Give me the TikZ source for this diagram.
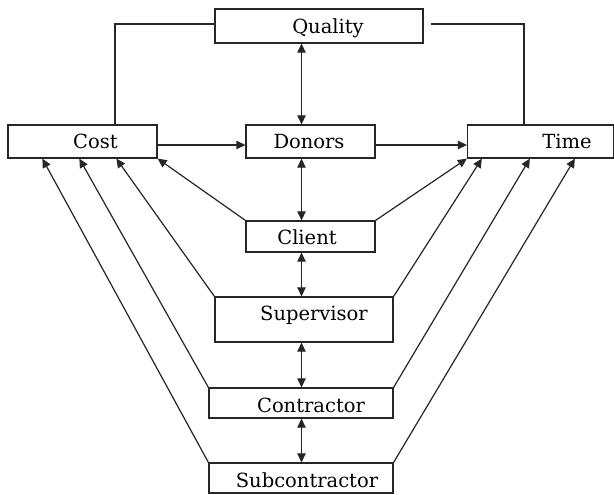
\documentclass[tikz,border=0pt]{standalone}
\usepackage{fontspec}
\setmainfont{DejaVu Serif}
\usetikzlibrary{arrows.meta}
\begin{document}
\begin{tikzpicture}[x=1pt,y=-1pt,
  box/.style={draw=black!85,line width=1.3pt,fill=white,inner sep=0pt,minimum height=33pt},
  lbl/.style={inner sep=0pt,text height=14pt,text depth=0pt,font=\fontsize{19.5}{20}\selectfont,text=black},
  conn/.style={draw=black!85,line width=1.2pt},
  tip/.style={-{Triangle[length=9pt,width=8.5pt]}},
  dtip/.style={{Triangle[length=9pt,width=8.5pt]}-{Triangle[length=9pt,width=8.5pt]}}]
\useasboundingbox (0,0) rectangle (614,495);
\fill[white] (0,0) rectangle (614,495);
% boxes
\node[box,minimum width=208pt,minimum height=34pt,label={[lbl,xshift=9pt,yshift=-1pt]center:Quality}] (quality) at (319,26) {};
\node[box,minimum width=149pt,label={[lbl,xshift=13pt]center:Cost}] (cost) at (82.5,141.5) {};
\node[box,minimum width=129pt,label={[lbl,xshift=-1.5pt]center:Donors}] (donors) at (310.5,141.5) {};
\node[box,minimum width=146pt,label={[lbl,xshift=26.5pt]center:Time}] (time) at (540.5,141.5) {};
\node[box,minimum width=129pt,minimum height=31pt,label={[lbl,xshift=-3.5pt,yshift=-1pt]center:Client}] (client) at (310.5,236.5) {};
\node[box,minimum width=178pt,minimum height=45pt,label={[lbl,xshift=10pt,yshift=6pt]center:Supervisor}] (supervisor) at (304,319.5) {};
\node[box,minimum width=184pt,minimum height=30pt,label={[lbl,xshift=10pt,yshift=-2pt]center:Contractor}] (contractor) at (301,403) {};
\node[box,minimum width=184pt,minimum height=30pt,label={[lbl,xshift=6pt,yshift=-2pt]center:Subcontractor}] (subcontractor) at (301,478) {};
% helper coordinates
\coordinate (vx) at (301.5,0);
\coordinate (ql) at (115,0);
\coordinate (qr) at (524,0);
% quality links
\draw[conn] ([yshift=2pt]quality.west) -| (cost.north -| ql);
\draw[conn] ([xshift=7pt,yshift=2pt]quality.east) -| (time.north -| qr);
% vertical double arrows
\draw[conn,dtip] (quality.south -| vx) -- (donors.north -| vx);
\draw[conn,dtip] (donors.south -| vx) -- (client.north -| vx);
\draw[conn,dtip] (client.south -| vx) -- (supervisor.north -| vx);
\draw[conn,dtip] (supervisor.south -| vx) -- (contractor.north -| vx);
\draw[conn,dtip] (contractor.south -| vx) -- (subcontractor.north -| vx);
% horizontal arrows
\draw[conn,tip] ([yshift=-3.5pt]cost.east) -- ([yshift=-3.5pt]donors.west);
\draw[conn,tip] ([yshift=-3.5pt]donors.east) -- ([yshift=-3.5pt]time.west);
% diagonals to cost
\draw[conn,tip] (client.north west) -- (cost.south east);
\draw[conn,tip] (supervisor.north west) -- ([xshift=109pt]cost.south west);
\draw[conn,tip] (contractor.north west) -- ([xshift=72pt]cost.south west);
\draw[conn,tip] (subcontractor.north west) -- ([xshift=35pt]cost.south west);
% diagonals to time
\draw[conn,tip] (client.north east) -- (time.south west);
\draw[conn,tip] (supervisor.north east) -- ([xshift=15pt]time.south west);
\draw[conn,tip] (contractor.north east) -- ([xshift=63pt]time.south west);
\draw[conn,tip] (subcontractor.north east) -- ([xshift=108pt]time.south west);
\end{tikzpicture}
\end{document}
